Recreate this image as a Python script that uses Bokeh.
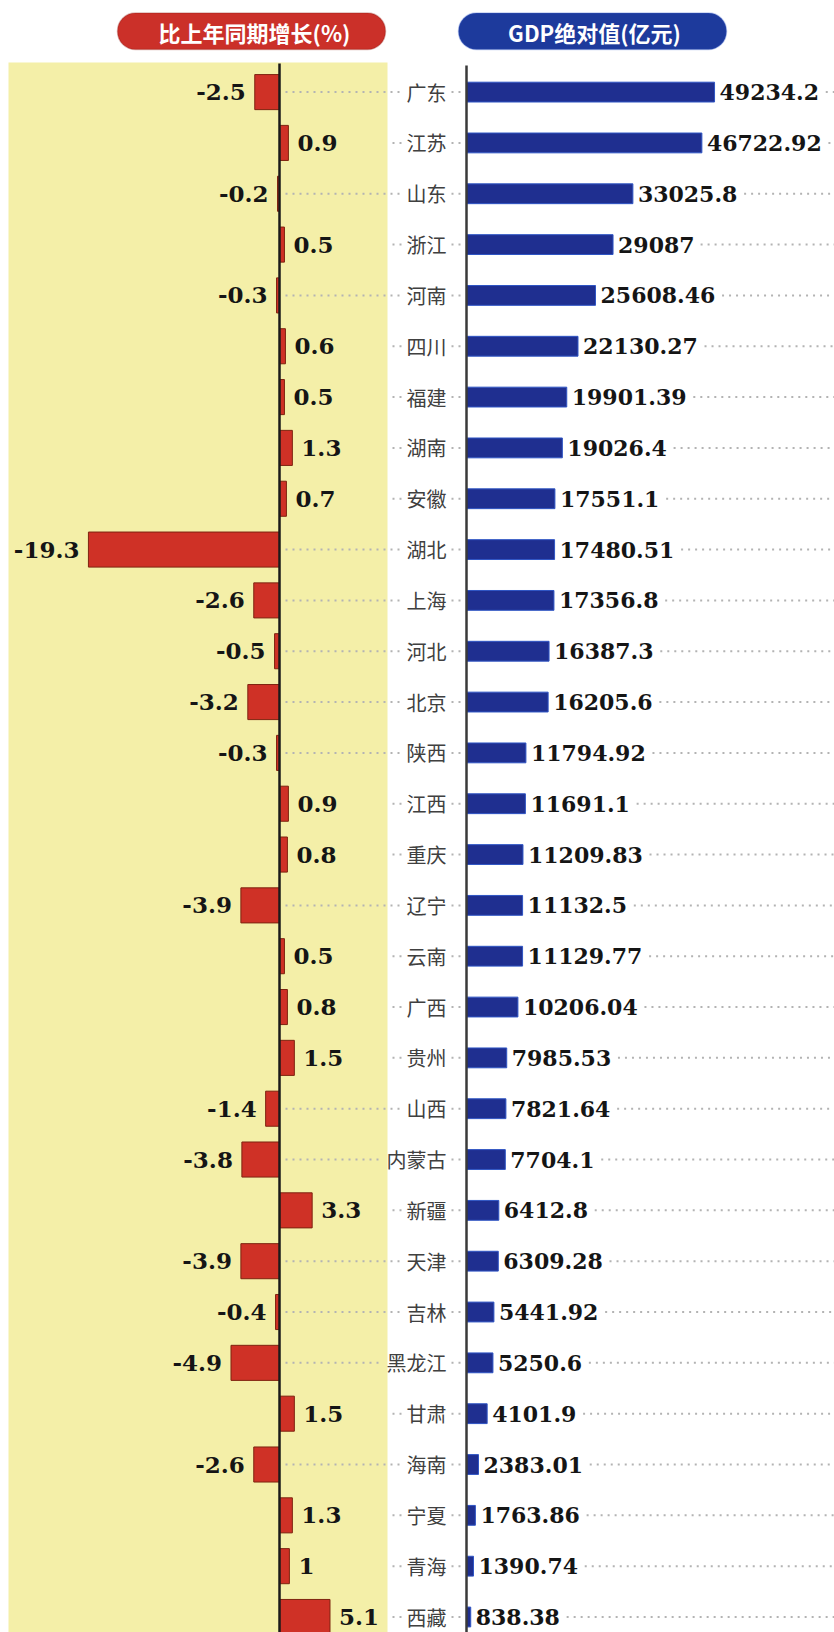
from bokeh.plotting import figure
from bokeh.models import Range1d, BoxAnnotation, ColumnDataSource
from bokeh.core.properties import value
from bokeh.embed import file_html
from bokeh.resources import INLINE

# ---------------- data ----------------
provinces = ["广东", "江苏", "山东", "浙江", "河南", "四川", "福建", "湖南", "安徽", "湖北",
             "上海", "河北", "北京", "陕西", "江西", "重庆", "辽宁", "云南", "广西", "贵州",
             "山西", "内蒙古", "新疆", "天津", "吉林", "黑龙江", "甘肃", "海南", "宁夏", "青海", "西藏"]
growth = [-2.5, 0.9, -0.2, 0.5, -0.3, 0.6, 0.5, 1.3, 0.7, -19.3,
          -2.6, -0.5, -3.2, -0.3, 0.9, 0.8, -3.9, 0.5, 0.8, 1.5,
          -1.4, -3.8, 3.3, -3.9, -0.4, -4.9, 1.5, -2.6, 1.3, 1, 5.1]
growth_labels = ["-2.5", "0.9", "-0.2", "0.5", "-0.3", "0.6", "0.5", "1.3", "0.7", "-19.3",
                 "-2.6", "-0.5", "-3.2", "-0.3", "0.9", "0.8", "-3.9", "0.5", "0.8", "1.5",
                 "-1.4", "-3.8", "3.3", "-3.9", "-0.4", "-4.9", "1.5", "-2.6", "1.3", "1", "5.1"]
gdp = [49234.2, 46722.92, 33025.8, 29087, 25608.46, 22130.27, 19901.39, 19026.4, 17551.1, 17480.51,
       17356.8, 16387.3, 16205.6, 11794.92, 11691.1, 11209.83, 11132.5, 11129.77, 10206.04, 7985.53,
       7821.64, 7704.1, 6412.8, 6309.28, 5441.92, 5250.6, 4101.9, 2383.01, 1763.86, 1390.74, 838.38]
gdp_labels = ["49234.2", "46722.92", "33025.8", "29087", "25608.46", "22130.27", "19901.39", "19026.4",
              "17551.1", "17480.51", "17356.8", "16387.3", "16205.6", "11794.92", "11691.1", "11209.83",
              "11132.5", "11129.77", "10206.04", "7985.53", "7821.64", "7704.1", "6412.8", "6309.28",
              "5441.92", "5250.6", "4101.9", "2383.01", "1763.86", "1390.74", "838.38"]
title_left = "比上年同期增长(%)"
title_right = "GDP绝对值(亿元)"

# ---------------- layout constants (page pixels) ----------------
W, H = 834, 1632
LEFT_AXIS_PX = 279
G_PX = 9.9               # pixels per growth unit
RIGHT_AXIS_PX = 466
GDP_PER_PX = 198.5       # GDP units per pixel
ROW0_PX = 91.6
ROW_STEP = 50.83
CAT_RIGHT_PX = 446
YELLOW_LEFT, YELLOW_RIGHT = 8, 387
PANEL_TOP = 62

n = len(provinces)
rows = list(range(n))

p = figure(width=W, height=H, output_backend="svg", toolbar_location=None,
           x_range=Range1d(0, W),
           y_range=Range1d((H - ROW0_PX) / ROW_STEP, -ROW0_PX / ROW_STEP),
           x_axis_location=None, y_axis_location=None, min_border=0,
           outline_line_color=None, background_fill_color="white", border_fill_color="white")
p.grid.visible = False
p.extra_x_ranges = {
    "g": Range1d(-LEFT_AXIS_PX / G_PX, (W - LEFT_AXIS_PX) / G_PX),
    "gdp": Range1d(-RIGHT_AXIS_PX * GDP_PER_PX, (W - RIGHT_AXIS_PX) * GDP_PER_PX),
}
p.extra_y_ranges = {"px": Range1d(H, 0)}

# yellow panel
p.quad(left=[YELLOW_LEFT], right=[YELLOW_RIGHT], top=[PANEL_TOP], bottom=[H], y_range_name="px",
       fill_color="#f4efa8", line_color=None)

# header pills
p.add_layout(BoxAnnotation(left=117, right=385, top=12.5, bottom=49, y_range_name="px",
                           fill_color="#cb3029", fill_alpha=1, line_color="#8e1c14", line_width=1.5,
                           border_radius=18, level="underlay"))
p.add_layout(BoxAnnotation(left=458, right=726, top=12.5, bottom=49, y_range_name="px",
                           fill_color="#1d3a9c", fill_alpha=1, line_color="#3f62cc", line_width=1.5,
                           border_radius=18, level="underlay"))
p.text(x=[254, 594], y=[31, 31], text=[title_left, title_right], y_range_name="px",
       text_font=value("Noto Sans CJK SC"), text_font_style="bold", text_font_size="22px",
       text_color="white", text_align="center", text_baseline="middle")

# dotted guide lines
def cat_w(s):
    return 20 * len(s)

def num_w(s, size):
    return sum((0.38 if c == "." else 0.415 if c == "-" else 0.696) * size for c in s)

lx0, lx1, ly = [], [], []
for i, (g, name) in enumerate(zip(growth, provinces)):
    cl = CAT_RIGHT_PX - cat_w(name)
    if g < 0:
        lx0.append(LEFT_AXIS_PX + 6)
    else:
        lx0.append(cl - 14)
    lx1.append(cl - 4)
    ly.append(i)
    lx0.append(CAT_RIGHT_PX + 5)
    lx1.append(RIGHT_AXIS_PX - 3)
    ly.append(i)
for i, (v, s) in enumerate(zip(gdp, gdp_labels)):
    lx0.append(RIGHT_AXIS_PX + v / GDP_PER_PX + 5 + num_w(s, 22) + 6)
    lx1.append(W)
    ly.append(i)
p.segment(x0=lx0, x1=lx1, y0=ly, y1=ly, line_color="#b3b3b3", line_width=2, line_dash="2 5")

# red bars
src_g = ColumnDataSource(dict(y=rows, v=growth, lab=growth_labels))
p.hbar(y="y", left=0, right="v", height=0.69, source=src_g, x_range_name="g",
       fill_color="#cf3126", line_color="#7e2410", line_width=1)

neg = ColumnDataSource(dict(y=[i for i in rows if growth[i] < 0],
                            v=[growth[i] for i in rows if growth[i] < 0],
                            lab=[growth_labels[i] for i in rows if growth[i] < 0]))
pos = ColumnDataSource(dict(y=[i for i in rows if growth[i] >= 0],
                            v=[growth[i] for i in rows if growth[i] >= 0],
                            lab=[growth_labels[i] for i in rows if growth[i] >= 0]))
p.text(x="v", y="y", text="lab", source=neg, x_range_name="g", x_offset=-9,
       text_align="right", text_baseline="middle", text_font=value("DejaVu Serif"),
       text_font_style="bold", text_font_size="23px", text_color="#151515")
p.text(x="v", y="y", text="lab", source=pos, x_range_name="g", x_offset=9,
       text_align="left", text_baseline="middle", text_font=value("DejaVu Serif"),
       text_font_style="bold", text_font_size="23px", text_color="#151515")

# axis lines
p.segment(x0=[0], x1=[0], y0=[PANEL_TOP + 1], y1=[H], x_range_name="g", y_range_name="px",
          line_color="#1a1a1a", line_width=2.5)

# blue bars
src_b = ColumnDataSource(dict(y=rows, v=gdp, lab=gdp_labels))
p.hbar(y="y", left=0, right="v", height=0.39, source=src_b, x_range_name="gdp",
       fill_color="#1f2f90", line_color="#2f55c4", line_width=1)
p.text(x="v", y="y", text="lab", source=src_b, x_range_name="gdp", x_offset=5,
       text_align="left", text_baseline="middle", text_font=value("DejaVu Serif"),
       text_font_style="bold", text_font_size="22px", text_color="#151515")
p.segment(x0=[0], x1=[0], y0=[PANEL_TOP + 3], y1=[H], x_range_name="gdp", y_range_name="px",
          line_color="#3a3a3a", line_width=2.5)

# category labels
cat_x = [CAT_RIGHT_PX] * n
p.text(x=cat_x, y=rows, text=provinces, text_align="right", text_baseline="middle",
       text_font=value("Noto Sans CJK SC"), text_font_size="20px", text_color="#404040")

open("out.html", "w").write(file_html(p, INLINE))
